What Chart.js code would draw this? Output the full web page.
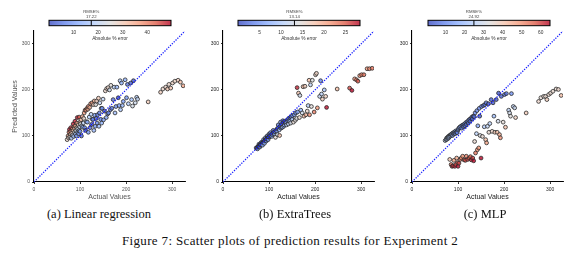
<!DOCTYPE html>
<html><head><meta charset="utf-8">
<script src="https://cdn.jsdelivr.net/npm/chart.js@4.4.1/dist/chart.umd.min.js"></script>
<style>
html,body{margin:0;padding:0;background:#fff;width:572px;height:253px;overflow:hidden;position:relative}
canvas{position:absolute}
.cap{position:absolute;font-family:"Liberation Serif",serif;font-size:12.5px;line-height:12.5px;color:#111;white-space:nowrap;transform:translateX(-50%)}
#fig{font-size:13px;line-height:13px;letter-spacing:0.35px}
</style></head><body>
<canvas id="s0" width="190" height="201" style="left:0px;top:0px"></canvas>
<canvas id="s1" width="190" height="201" style="left:189px;top:0px"></canvas>
<canvas id="s2" width="190" height="201" style="left:378px;top:0px"></canvas>
<canvas id="c0" width="142" height="42" style="left:39px;top:0px"></canvas>
<canvas id="c1" width="142" height="42" style="left:228px;top:0px"></canvas>
<canvas id="c2" width="142" height="42" style="left:418px;top:0px"></canvas>
<div class="cap" id="t0" style="left:99px;top:208px"></div>
<div class="cap" id="t1" style="left:295px;top:208px"></div>
<div class="cap" id="t2" style="left:485px;top:208px"></div>
<div class="cap" id="fig" style="left:290px;top:234px"></div>
<script>
// ---- data ----
const actual = [72,74,75,76,77,78,79,80,80,81,82,83,84,85,85,86,87,88,88,89,90,90,91,92,93,93,94,95,95,96,97,98,98,99,100,100,
 101,102,103,104,105,106,107,108,109,110,111,112,113,114,115,116,117,118,118,120,121,122,123,124,125,126,127,128,129,130,131,132,133,134,135,
 136,137,138,140,141,142,143,145,146,147,148,150,151,153,155,157,158,160,161,162,164,166,167,169,
 172,174,176,178,180,183,185,187,188,190,192,194,198,201,203,205,210,212,214,216,220,223,225,
 248,275,280,286,290,293,297,301,306,313,318,324];
const predLinear = [92,100,96,108,114,98,104,118,110,95,106,115,102,126,112,99,120,108,116,132,104,122,112,100,118,128,140,108,115,124,105,141,112,120,110,130,
 126,135,100,122,142,119,128,138,150,118,156,112,156,131,160,130,158,108,164,141,162,118,170,147,125,172,136,136,168,112,176,145,121,168,138,
 176,128,146,182,121,150,172,136,160,128,160,180,135,154,198,140,203,148,205,150,200,157,210,160,
 179,206,150,164,206,183,166,220,157,215,166,175,222,183,212,170,215,179,165,220,172,184,180,
 174,195,202,206,202,212,204,215,219,221,217,209];
const predExtraTrees = [74,75,72,76,78,82,80,79,76,80,81,86,82,84,85,80,86,87,92,87,89,84,90,96,92,91,89,94,93,100,96,96,92,98,98,104,
 98,100,107,101,103,99,103,106,112,108,107,104,109,97,112,113,110,116,103,124,118,113,101,121,130,117,125,119,119,133,129,121,124,132,128,
 128,130,124,133,136,126,138,132,140,128,142,136,144,130,146,134,150,138,205,152,193,140,188,156,
 150,207,143,208,146,154,166,221,146,211,164,221,152,233,236,161,186,220,191,180,200,186,162,
 202,204,199,224,222,219,231,233,233,246,246,247];
const predMLP = [90,92,95,93,97,96,95,100,97,99,49,102,100,38,103,104,34,106,101,35,104,107,47,106,34,109,105,38,111,108,52,110,107,42,113,34,
 116,41,118,119,49,121,52,117,123,56,124,120,48,126,122,47,129,125,56,131,49,128,134,52,136,132,55,138,48,141,137,52,143,46,142,
 88,150,63,105,155,70,122,74,160,143,101,52,164,99,166,120,168,92,172,85,121,170,108,127,
 179,110,172,143,108,179,108,132,193,103,96,186,130,190,119,192,156,150,143,192,164,161,140,
 150,175,183,186,186,179,190,193,197,202,201,188];
const rmsePct = [17.22, 13.14, 24.92];
const colorbarRange = [[0, 49.7], [0, 28.4], [0.8, 64.9]];
const colorbarTicks = [[10,20,30,40],[5,10,15,20,25],[10,20,30,40,50,60]];
const axisTicks = [0,100,200,300];
const axisMax = 328;
const diagonal = [0, 328];
const subCaptions = ['(a) Linear regression', '(b) ExtraTrees', '(c) MLP'];
const figCaption = 'Figure 7: Scatter plots of prediction results for Experiment 2';

// ---- rendering ----
const preds = [predLinear, predExtraTrees, predMLP];
const SANS = '"Liberation Sans", Arial, sans-serif';
const stops = [[59,76,192],[98,130,234],[141,176,254],[184,208,249],[221,221,221],[245,196,173],[244,154,123],[222,96,77],[180,4,38]];
function cmap(t, a){
  t = Math.max(0, Math.min(1, t));
  const p = t*8, i = Math.min(7, Math.floor(p)), f = p - i;
  const c = stops[i].map((v,k)=>Math.round(v + (stops[i+1][k]-v)*f));
  return `rgba(${c[0]},${c[1]},${c[2]},${a})`;
}
const textCol = ['#555', '#222', '#222'];

function makeScatter(i){
  const pred = preds[i];
  const [lo, hi] = colorbarRange[i];
  const pts = actual.map((a,k)=>({x:a, y:pred[k]}));
  const cols = actual.map((a,k)=>cmap((Math.abs(pred[k]-a)/a*100 - lo)/(hi-lo), 0.8));
  const tc = textCol[i];
  new Chart(document.getElementById('s'+i), {
    type: 'scatter',
    data: { datasets: [
      { type:'line', data: diagonal.map(v=>({x:v, y:v})), borderColor:'#1a22ff', borderWidth:1.3, borderDash:[1.3,1.3], pointRadius:0, order:0, fill:false },
      { data: pts, backgroundColor: cols, borderColor:'#2a2a2a', borderWidth:0.8, pointRadius:1.9, order:1 }
    ]},
    options: {
      responsive:false, animation:false, devicePixelRatio:1,
      layout:{ padding:{ top:31, right:5, left:11, bottom:0 } },
      plugins:{ legend:{display:false}, tooltip:{enabled:false} },
      scales:{
        x:{ type:'linear', min:0, max:axisMax,
            afterFit: s=>{ s.height = 19; },
            afterBuildTicks: s=>{ s.ticks = axisTicks.map(v=>({value:v})); },
            ticks:{ font:{family:SANS, size:5}, color:tc, padding:3, maxRotation:0, autoSkip:false },
            grid:{ drawOnChartArea:false, drawTicks:true, tickLength:2, color:'#000', lineWidth:0.8 },
            border:{ display:true, color:'#000', width:1.1 },
            title:{ display:true, text:'Actual Values', font:{family:SANS, size:7}, color:tc, padding:0 } },
        y:{ type:'linear', min:0, max:axisMax,
            afterFit: s=>{ s.width = 23; },
            afterBuildTicks: s=>{ s.ticks = axisTicks.map(v=>({value:v})); },
            ticks:{ font:{family:SANS, size:5}, color:tc, padding:2, autoSkip:false },
            grid:{ drawOnChartArea:false, drawTicks:true, tickLength:2, color:'#000', lineWidth:0.8 },
            border:{ display:true, color:'#000', width:1.1 },
            title:{ display: i===0, text:'Predicted Values', font:{family:SANS, size:7}, color:tc, padding:0 } }
      }
    }
  });
}

function makeColorbar(i){
  const [lo, hi] = colorbarRange[i];
  new Chart(document.getElementById('c'+i), {
    type:'scatter',
    data:{ datasets:[] },
    options:{
      responsive:false, animation:false, devicePixelRatio:1,
      layout:{ padding:{ top:20.3, left:10, right:10, bottom:0 } },
      plugins:{ legend:{display:false}, tooltip:{enabled:false} },
      scales:{
        x:{ type:'linear', min:lo, max:hi,
            afterFit: s=>{ s.height = 16.3; },
            afterBuildTicks: s=>{ s.ticks = colorbarTicks[i].map(v=>({value:v})); },
            ticks:{ font:{family:SANS, size:4.8}, color:'#333', padding:4.5, maxRotation:0, autoSkip:false },
            grid:{ display:false, drawTicks:false },
            border:{ display:false },
            title:{ display:true, text:'Absolute % error', font:{family:SANS, size:4.8}, color:'#333', padding:0 } },
        y:{ display:false, min:0, max:1 }
      }
    },
    plugins:[{ id:'cbar', afterDraw(chart){
      const {ctx, chartArea:ca} = chart;
      const g = ctx.createLinearGradient(ca.left, 0, ca.right, 0);
      for (let k=0;k<=8;k++) g.addColorStop(k/8, cmap(k/8, 0.8));
      ctx.save();
      ctx.fillStyle = g;
      ctx.fillRect(ca.left, ca.top, ca.right-ca.left, ca.bottom-ca.top);
      ctx.strokeStyle = '#000'; ctx.lineWidth = 1;
      ctx.strokeRect(ca.left, ca.top, ca.right-ca.left, ca.bottom-ca.top);
      const mx = chart.scales.x.getPixelForValue(rmsePct[i]);
      ctx.beginPath(); ctx.moveTo(mx, ca.top); ctx.lineTo(mx, ca.bottom); ctx.stroke();
      ctx.fillStyle = '#444';
      ctx.font = '4.3px ' + SANS;
      ctx.textAlign = 'center'; ctx.textBaseline = 'middle';
      ctx.fillText('RMSE%', mx, 12.3);
      ctx.fillText(rmsePct[i].toFixed(2), mx, 16.5);
      ctx.restore();
    }}]
  });
}

for (let i=0;i<3;i++){ makeScatter(i); makeColorbar(i); document.getElementById('t'+i).textContent = subCaptions[i]; }
document.getElementById('fig').textContent = figCaption;
</script>
</body></html>
